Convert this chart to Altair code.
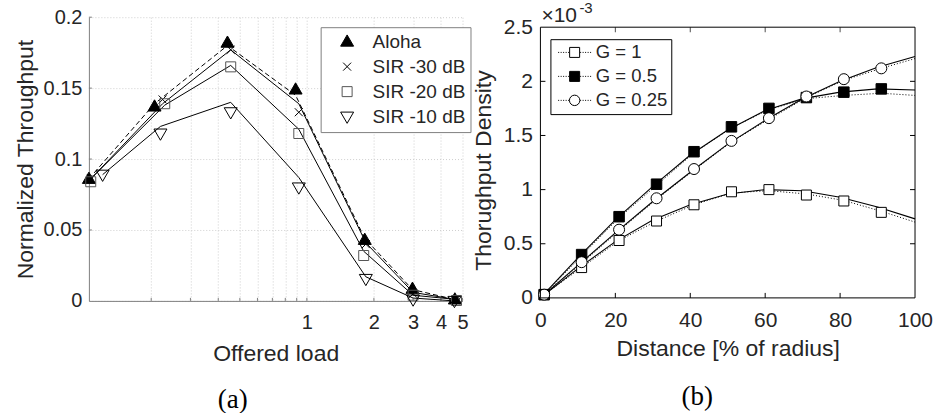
import altair as alt
import pandas as pd

# ---------------- Panel (a): throughput vs offered load ----------------
series_a = ["Aloha", "SIR -30 dB", "SIR -20 dB", "SIR -10 dB"]

load_aloha = [0.105, 0.207, 0.44, 0.89, 1.82, 2.98, 4.62]
mark_aloha = [0.086, 0.137, 0.182, 0.149, 0.043, 0.0085, 0.001]
line_aloha = [0.086, 0.139, 0.180, 0.145, 0.044, 0.008, 0.001]

load_sir30 = [0.107, 0.225, 0.455, 0.92, 1.84, 3.0, 4.65]
mark_sir30 = [0.086, 0.142, 0.177, 0.133, 0.040, 0.005, 0.0005]
line_sir30 = [0.086, 0.139, 0.177, 0.139, 0.041, 0.006, 0.001]

load_sir20 = [0.107, 0.23, 0.455, 0.92, 1.80, 3.0, 4.7]
mark_sir20 = [0.084, 0.139, 0.165, 0.118, 0.032, 0.004, 0.0003]
line_sir20 = [0.086, 0.138, 0.166, 0.121, 0.035, 0.004, 0.001]

load_sir10 = [0.121, 0.22, 0.455, 0.92, 1.84, 3.0, 4.6]
mark_sir10 = [0.089, 0.118, 0.133, 0.080, 0.0155, 0.001, 0.0]
line_sir10 = [0.089, 0.123, 0.140, 0.087, 0.017, 0.002, 0.0]

x_ticks_a = [0.2, 0.3, 0.4, 0.5, 0.6, 0.7, 0.8, 0.9, 1, 2, 3, 4, 5]
y_ticks_a = [0, 0.05, 0.1, 0.15, 0.2]

# ---------------- Panel (b): throughput density vs distance ----------------
series_b = ["G = 1", "G = 0.5", "G = 0.25"]
dist_marks = [1, 11, 21, 31, 41, 51, 61, 71, 81, 91]
mark_g1 = [0.03, 0.28, 0.53, 0.71, 0.86, 0.98, 1.00, 0.95, 0.895, 0.79]
mark_g05 = [0.03, 0.40, 0.75, 1.05, 1.35, 1.58, 1.75, 1.85, 1.90, 1.93]
mark_g025 = [0.03, 0.33, 0.63, 0.92, 1.19, 1.45, 1.66, 1.86, 2.02, 2.12]

dist_dotted = [1, 11, 21, 31, 41, 51, 61, 71, 81, 91, 100]
dot_g1 = [0.03, 0.28, 0.53, 0.71, 0.86, 0.97, 0.99, 0.96, 0.90, 0.80, 0.70]
dot_g05 = [0.03, 0.39, 0.74, 1.04, 1.34, 1.57, 1.74, 1.84, 1.87, 1.89, 1.87]
dot_g025 = [0.03, 0.32, 0.62, 0.91, 1.18, 1.44, 1.65, 1.85, 2.01, 2.12, 2.21]

dist_curve = [0, 10, 20, 30, 40, 50, 60, 70, 80, 90, 100]
curve_g1 = [0.0, 0.27, 0.52, 0.72, 0.86, 0.96, 1.00, 0.99, 0.93, 0.84, 0.73]
curve_g05 = [0.0, 0.37, 0.72, 1.03, 1.32, 1.55, 1.73, 1.84, 1.90, 1.93, 1.92]
curve_g025 = [0.0, 0.30, 0.60, 0.89, 1.16, 1.42, 1.64, 1.84, 2.00, 2.13, 2.23]

x_ticks_b = [0, 20, 40, 60, 80, 100]
y_ticks_b = [0, 0.5, 1, 1.5, 2, 2.5]
x_inner_b = [20, 40, 60, 80]
y_inner_b = [0.5, 1, 1.5, 2]
frame_x_b = [0, 100]
frame_y_b = [0, 2.5]

FONT = "Liberation Sans"
TXT = "#262626"

# ---------------- marker glyphs (unit paths, scaled by sqrt(size)/2) ----------------
TRI_UP = "M0,-1.35L1.3,0.9L-1.3,0.9Z"
CROSS_X = "M-0.8,-0.8L0.8,0.8M-0.8,0.8L0.8,-0.8"
SQUARE_A = "M-1,-1H1V1H-1Z"
TRI_DOWN = "M0,1.35L1.3,-0.9L-1.3,-0.9Z"

# legend glyphs for panel (b): dotted line with the marker in the middle
DOTS = ("M-3,0h0.18M-2.545,0h0.18M-2.091,0h0.18M-1.636,0h0.18M-1.182,0h0.18"
        "M1.0,0h0.18M1.455,0h0.18M1.909,0h0.18M2.364,0h0.18M2.818,0h0.18")
LEG_SQ = DOTS + "M-0.91,-0.91H0.91V0.91H-0.91Z"
LEG_CIRC = DOTS + "M0.95,0A0.95,0.95 0 1 1 -0.95,0A0.95,0.95 0 1 1 0.95,0Z"

# ---------------- build tables ----------------
def long(series, xs, ys, xname, yname):
    rows = []
    for s, xv, yv in zip(series, xs, ys):
        for a, b in zip(xv, yv):
            rows.append({"series": s, xname: a, yname: b})
    return pd.DataFrame(rows)

loads = [load_aloha, load_sir30, load_sir20, load_sir10]
df_a_marks = long(series_a, loads, [mark_aloha, mark_sir30, mark_sir20, mark_sir10], "load", "thr")
df_a_lines = long(series_a, loads, [line_aloha, line_sir30, line_sir20, line_sir10], "load", "thr")

df_b_marks = long(series_b, [dist_marks] * 3, [mark_g1, mark_g05, mark_g025], "dist", "dens")
df_b_dot = long(series_b, [dist_dotted] * 3, [dot_g1, dot_g05, dot_g025], "dist", "dens")
df_b_curve = long(series_b, [dist_curve] * 3, [curve_g1, curve_g05, curve_g025], "dist", "dens")
df_b_leg = df_b_marks.rename(columns={"series": "gl"})

# ---------------- panel (a) ----------------
WA, HA = 374, 284
xa_scale = alt.Scale(type="log", domain=[0.105, 5], nice=False)
ya_scale = alt.Scale(domain=[0, 0.2], nice=False)
xa_axis = alt.Axis(values=x_ticks_a, title="Offered load",
                   labelExpr="datum.value >= 1 ? format(datum.value, 'd') : ''",
                   grid=True, gridDash=[1, 2], gridColor="#cfcfcf", tickSize=0,
                   labelPadding=12, labelFontSize=20, titleFontSize=23, titlePadding=10,
                   domainColor="#808080", labelColor=TXT, titleColor=TXT,
                   titleFontWeight="normal", labelFlush=False)
ya_axis = alt.Axis(values=y_ticks_a, title="Normalized Throughput", format=".2~f",
                   grid=True, gridDash=[1, 2], gridColor="#cfcfcf", tickSize=0,
                   labelPadding=7, labelFontSize=20, titleFontSize=23, titlePadding=6,
                   domainColor="#808080", labelColor=TXT, titleColor=TXT,
                   titleFontWeight="normal", labelFlush=False)

Xa = alt.X("load:Q", scale=xa_scale, axis=xa_axis)
Ya = alt.Y("thr:Q", scale=ya_scale, axis=ya_axis)

aloha_line = alt.Chart(df_a_lines).transform_filter(alt.datum.series == "Aloha").mark_line(
    color="black", strokeWidth=1, strokeDash=[5, 3]).encode(x=Xa, y=Ya)
sir_lines = alt.Chart(df_a_lines).transform_filter(alt.datum.series != "Aloha").mark_line(
    color="black", strokeWidth=1).encode(x=Xa, y=Ya, detail="series:N")

legend_a = alt.Legend(title=None, orient="none", legendX=232, legendY=10, padding=5,
                      strokeColor="#808080", fillColor="white", labelFontSize=19,
                      labelColor=TXT, rowPadding=5, symbolOffset=12, labelOffset=16,
                      symbolStrokeWidth=1, symbolSize=100)
marks_a = alt.Chart(df_a_marks).mark_point(filled=True, strokeWidth=1, opacity=1,
                                           size=100).encode(
    x=Xa, y=Ya,
    shape=alt.Shape("series:N", scale=alt.Scale(domain=series_a, range=[
        TRI_UP, CROSS_X, SQUARE_A, TRI_DOWN]), legend=legend_a),
    fill=alt.Fill("series:N", scale=alt.Scale(domain=series_a, range=[
        "black", "transparent", "transparent", "transparent"]), legend=legend_a),
    stroke=alt.Stroke("series:N", scale=alt.Scale(domain=series_a, range=[
        "black", "black", "#555555", "black"]), legend=legend_a),
)

ticks_a_x = alt.Chart(pd.DataFrame({"v": x_ticks_a})).mark_rule(color="#808080").encode(
    x=alt.X("v:Q", scale=xa_scale, axis=xa_axis), y=alt.value(HA), y2=alt.value(HA - 3))
ticks_a_y = alt.Chart(pd.DataFrame({"v": y_ticks_a[1:]})).mark_rule(color="#808080").encode(
    y=alt.Y("v:Q", scale=ya_scale, axis=ya_axis), x=alt.value(0), x2=alt.value(3))

label_a = alt.Chart(pd.DataFrame({"t": ["(a)"]})).mark_text(
    font="Liberation Serif", fontSize=27, color="black", align="center", baseline="middle"
).encode(text="t:N", x=alt.value(144), y=alt.value(383))

panel_a = alt.layer(ticks_a_x, ticks_a_y, aloha_line, sir_lines, marks_a, label_a).properties(
    width=WA, height=HA)

# ---------------- panel (b) ----------------
# plot area starts at the same top as panel (a); the framed box spans 0..2.5
WB, HB = 375, 281
xb_scale = alt.Scale(domain=[0, 100], nice=False)
yb_scale = alt.Scale(domain=[0, 2.5 * 281 / 271], nice=False)
xb_axis = alt.Axis(values=x_ticks_b, title="Distance [% of radius]", grid=False, tickSize=0,
                   domain=False, labelPadding=12, labelFontSize=21, titleFontSize=23,
                   titlePadding=7, labelColor=TXT, titleColor=TXT, titleFontWeight="normal",
                   labelFlush=False)
yb_axis = alt.Axis(values=y_ticks_b, title="Thorughput Density", format="~g", grid=False,
                   tickSize=0, domain=False, labelPadding=8, labelFontSize=21,
                   titleFontSize=23, titlePadding=8, titleY=153, labelColor=TXT,
                   titleColor=TXT, titleFontWeight="normal", labelFlush=False)
Xb = alt.X("dist:Q", scale=xb_scale, axis=xb_axis)
Yb = alt.Y("dens:Q", scale=yb_scale, axis=yb_axis)

curves_b = alt.Chart(df_b_curve).mark_line(color="black", strokeWidth=1.1).encode(
    x=Xb, y=Yb, detail="series:N")
dotted_b = alt.Chart(df_b_dot).mark_line(color="black", strokeWidth=1, strokeDash=[1, 2]).encode(
    x=Xb, y=Yb, detail="series:N")

marks_b = alt.Chart(df_b_marks).mark_point(filled=True, stroke="black", strokeWidth=1,
                                           opacity=1).encode(
    x=Xb, y=Yb,
    shape=alt.Shape("series:N", scale=alt.Scale(domain=series_b,
                    range=["square", "square", "circle"]), legend=None),
    fill=alt.Fill("series:N", scale=alt.Scale(domain=series_b,
                  range=["white", "black", "white"]), legend=None),
    size=alt.Size("series:N", scale=alt.Scale(domain=series_b, range=[100, 121]), legend=None),
)

legend_b = alt.Legend(title=None, orient="none", legendX=10, legendY=22, padding=4,
                      strokeColor="black", labelFontSize=18.5, labelColor=TXT,
                      rowPadding=5, symbolOffset=11, labelOffset=12, symbolStrokeWidth=1,
                      symbolSize=121, symbolOpacity=1)
legend_layer_b = alt.Chart(df_b_leg).transform_filter("false").mark_point(
    filled=True, strokeWidth=1).encode(
    x=Xb, y=Yb,
    shape=alt.Shape("gl:N", scale=alt.Scale(domain=series_b,
                    range=[LEG_SQ, LEG_SQ, LEG_CIRC]), legend=legend_b),
    fill=alt.Fill("gl:N", scale=alt.Scale(domain=series_b,
                  range=["transparent", "black", "transparent"]), legend=legend_b),
    stroke=alt.Stroke("gl:N", scale=alt.Scale(domain=series_b,
                      range=["black", "black", "black"]), legend=legend_b),
)

# frame of panel (b)
fr_h = alt.Chart(pd.DataFrame({"v": frame_y_b})).mark_rule(color="black").encode(
    y=alt.Y("v:Q", scale=yb_scale, axis=yb_axis), x=alt.value(0), x2=alt.value(WB))
fr_v = alt.Chart(pd.DataFrame({"v": frame_x_b})).mark_rule(color="black").encode(
    x=alt.X("v:Q", scale=xb_scale, axis=xb_axis),
    y=alt.Y("lo:Q", scale=yb_scale, axis=yb_axis), y2="hi:Q"
).transform_calculate(lo="0", hi="2.5")

tick_len = 5
tb_bottom = alt.Chart(pd.DataFrame({"v": x_inner_b})).mark_rule(color="black").encode(
    x=alt.X("v:Q", scale=xb_scale, axis=xb_axis), y=alt.value(HB), y2=alt.value(HB - tick_len))
tb_top = alt.Chart(pd.DataFrame({"v": x_inner_b, "t": [2.5] * 4})).mark_tick(
    color="black", orient="vertical", size=tick_len, thickness=1, yOffset=tick_len / 2
).encode(x=alt.X("v:Q", scale=xb_scale, axis=xb_axis),
         y=alt.Y("t:Q", scale=yb_scale, axis=yb_axis))
tb_left = alt.Chart(pd.DataFrame({"v": y_inner_b})).mark_rule(color="black").encode(
    y=alt.Y("v:Q", scale=yb_scale, axis=yb_axis), x=alt.value(0), x2=alt.value(tick_len))
tb_right = alt.Chart(pd.DataFrame({"v": y_inner_b})).mark_rule(color="black").encode(
    y=alt.Y("v:Q", scale=yb_scale, axis=yb_axis), x=alt.value(WB), x2=alt.value(WB - tick_len))

exp_base = alt.Chart(pd.DataFrame({"t": ["\u00d710"]})).mark_text(
    font=FONT, fontSize=21, color=TXT, align="left", baseline="alphabetic"
).encode(text="t:N", x=alt.value(1), y=alt.value(5))
exp_pow = alt.Chart(pd.DataFrame({"t": ["-3"]})).mark_text(
    font=FONT, fontSize=15, color=TXT, align="left", baseline="alphabetic"
).encode(text="t:N", x=alt.value(39), y=alt.value(-4))

label_b = alt.Chart(pd.DataFrame({"t": ["(b)"]})).mark_text(
    font="Liberation Serif", fontSize=27, color="black", align="center", baseline="middle"
).encode(text="t:N", x=alt.value(157), y=alt.value(380))

panel_b = alt.layer(curves_b, dotted_b, marks_b, legend_layer_b, fr_h, fr_v, tb_bottom,
                    tb_top, tb_left, tb_right, exp_base, exp_pow, label_b).resolve_scale(
    shape="independent", fill="independent", stroke="independent"
).properties(width=WB, height=HB)

chart = alt.hconcat(panel_a, panel_b, spacing=0).resolve_scale(
    shape="independent", fill="independent", stroke="independent", size="independent"
).properties(
    padding={"left": 14, "top": 1, "right": 0, "bottom": 0}
).configure(font=FONT).configure_view(stroke=None)

chart.save("out.html", embed_options={"renderer": "svg", "actions": False})
